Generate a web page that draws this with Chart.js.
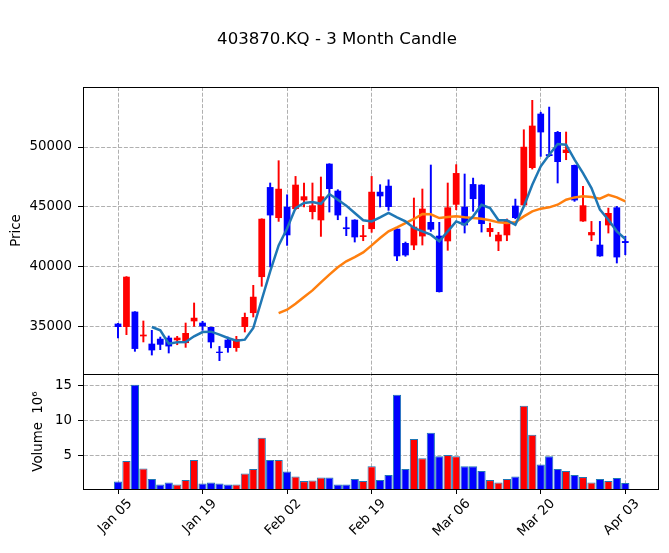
<!DOCTYPE html>
<html><head><meta charset="utf-8">
<script src="https://cdn.jsdelivr.net/npm/chart.js@4/dist/chart.umd.min.js"></script>
<style>html,body{margin:0;padding:0;background:#fff}canvas{display:block}</style>
</head><body>
<canvas id="c" width="669" height="553"></canvas>
<script>
// ---- data ----
const openP  = [35280,35000,36280,34220,33610,34020,34110,33890,33660,35470,
                35360,35000,32940,33940,33250,35000,36160,39160,46660,44080,
                45020,44830,45550,44580,43890,48610,46360,43300,43940,42500,
                43160,46270,46770,43190,42000,41800,42550,43750,42610,42140,
                45190,45020,46910,46860,42910,42140,42640,45110,45140,48250,
                52780,49400,51250,49500,48500,43800,42640,41860,43470,44970,42160];
const highP  = [35300,39200,36280,35500,34720,34160,34250,34220,35330,37000,
                35470,35000,33380,34160,34220,36160,38470,44020,47000,48860,
                46020,47550,47000,47000,47500,48610,46440,44160,43940,43470,
                47550,46860,47270,43190,42080,45750,46500,48500,43720,47000,
                48530,47750,47410,46860,43660,42890,44000,45660,51440,53890,
                52900,53330,51300,51250,48500,46720,43800,43800,44910,45050,42550];
const lowP   = [34080,34360,32970,33750,32660,33110,32830,33520,33300,35050,
                34720,33250,32190,32890,32970,34580,35830,38390,40000,43800,
                41800,44770,45000,44000,42550,44580,43940,42610,42080,42190,
                42890,45000,44720,40520,40890,41440,41830,42970,37910,41390,
                44770,42830,44640,42910,42550,41360,42190,44020,45140,48160,
                49220,49200,47000,48940,45470,43800,42190,40890,42830,40330,41020];
const closeP = [35000,39190,33170,34360,33050,33520,33380,34110,34500,35770,
                35050,33720,32830,33250,34000,35830,37520,44020,44300,46520,
                42640,46860,45890,45140,45890,46500,44300,43160,42470,42640,
                46270,45890,45000,40890,40970,43360,44860,43110,37910,44970,
                47830,43470,45660,43580,43250,42690,43860,44080,50020,51780,
                51220,49250,48750,49780,45550,45140,42910,40890,44500,40800,42000];
// volume in millions
const volume = [1.38,4.28,15.14,3.23,1.71,0.95,1.23,0.95,1.57,4.42,
                1.09,1.23,1.09,0.95,0.95,2.52,3.14,7.57,4.42,4.42,
                2.80,2.09,1.42,1.52,1.95,1.95,0.95,0.95,1.71,1.42,
                3.52,1.57,2.28,13.71,3.14,7.42,4.66,8.28,4.95,5.14,
                4.95,3.52,3.52,2.85,1.57,1.23,1.71,2.09,12.14,8.00,
                3.80,4.95,3.14,2.85,2.28,2.00,1.23,1.71,1.42,1.85,1.14];
// moving averages as drawn (null = not drawn)
const ma5  = [null,null,null,null,35000,34720,33610,33720,33750,34220,
              34580,34610,34360,34080,33860,33940,34910,37270,39640,41800,
              43200,44910,45330,45410,45270,46080,45610,45110,44500,43890,
              43800,44140,44500,44140,43800,43250,42970,42690,42140,42970,
              43800,43520,44220,45190,44910,43890,43890,43520,45050,46860,
              48390,49360,50250,50190,48940,47830,46580,44780,43940,42970,42330];
const ma20 = [null,null,null,null,null,null,null,null,null,null,
              null,null,null,null,null,null,null,null,null,36160,
              36440,36940,37500,38050,38720,39360,39970,40470,40830,41220,
              41800,42410,42970,43300,43660,44000,44410,44390,44080,44160,
              44220,44140,44080,44020,43890,43720,43660,43720,44220,44640,
              44860,44970,45190,45610,45800,45890,45830,45690,46020,45800,45470];
const tickPos    = [0,10,20,30,40,50,60];
const tickLabels = ['Jan 05','Jan 19','Feb 02','Feb 19','Mar 06','Mar 20','Apr 03'];
const priceTicks  = [35000,40000,45000,50000];
const volumeTicks = [5,10,15];

// ---- chart ----
Chart.defaults.font.family = "'DejaVu Sans', sans-serif";
Chart.defaults.font.size = 13.33;
Chart.defaults.color = '#000';

const UP = '#ff0000', DOWN = '#0000ff';
const idx = closeP.map((_, i) => i);
const colors = idx.map(i => closeP[i] >= openP[i] ? UP : DOWN);
const lineData = arr => arr.map((v, i) => ({x: i, y: v})).filter(p => p.y !== null);

const GRID = '#b0b0b0';
const DASH = [4, 1.7];

const framePlugin = {
  id: 'frame',
  afterDraw(chart) {
    const {ctx, chartArea: a, scales} = chart;
    const al = v => Math.round(v) + 0.5;
    ctx.save();
    ctx.strokeStyle = '#000';
    ctx.lineWidth = 1;
    ctx.beginPath();
    ctx.moveTo(a.left, al(a.top)); ctx.lineTo(a.right, al(a.top));
    ctx.moveTo(al(a.right), a.top); ctx.lineTo(al(a.right), a.bottom);
    ctx.moveTo(a.left, al(scales.y.bottom)); ctx.lineTo(a.right, al(scales.y.bottom));
    ctx.stroke();
    ctx.restore();
  }
};

new Chart(document.getElementById('c'), {
  type: 'bar',
  data: {
    datasets: [
      { type: 'line', label: 'MA5', data: lineData(ma5), borderColor: '#1f77b4',
        borderWidth: 2.5, pointRadius: 0, tension: 0, yAxisID: 'y', order: 0, clip: 0 },
      { type: 'line', label: 'MA20', data: lineData(ma20), borderColor: '#ff7f0e',
        borderWidth: 2.5, pointRadius: 0, tension: 0, yAxisID: 'y', order: 0, clip: 0 },
      { label: 'wick', data: idx.map(i => ({x: i, y: [lowP[i], highP[i]]})),
        backgroundColor: colors, barThickness: 1.3, grouped: false, yAxisID: 'y', order: 2, clip: 0 },
      { label: 'body', data: idx.map(i => ({x: i, y: [openP[i], closeP[i]]})),
        backgroundColor: colors, barPercentage: 0.8, categoryPercentage: 1, grouped: false,
        yAxisID: 'y', order: 1, clip: 0 },
      { label: 'volume', data: idx.map(i => ({x: i, y: volume[i]})),
        backgroundColor: colors, borderColor: '#1f77b4', borderWidth: 1, borderSkipped: false,
        barPercentage: 0.97, categoryPercentage: 1, grouped: false, yAxisID: 'yv', order: 1, clip: 0 }
    ]
  },
  options: {
    responsive: false,
    animation: false,
    devicePixelRatio: 1,
    layout: { padding: { left: 8, right: 3, top: 0, bottom: 0 } },
    plugins: {
      legend: { display: false },
      tooltip: { enabled: false },
      title: { display: true, text: '403870.KQ - 3 Month Candle', color: '#000',
               font: { size: 16.6, weight: 'normal' }, padding: { top: 29.5, bottom: 37.6 } }
    },
    scales: {
      x: {
        type: 'linear', min: -4.14, max: 63.87, offset: false,
        grid: { color: GRID, lineWidth: 1, offset: false, tickColor: '#000', tickLength: 5, tickWidth: 1 },
        border: { display: true, color: '#000', width: 1, dash: DASH },
        ticks: { autoSkip: false, minRotation: 45, maxRotation: 45, padding: 2, labelOffset: 12,
                 callback: v => { const k = tickPos.indexOf(v); return k >= 0 ? tickLabels[k] : ''; } },
        afterBuildTicks: s => { s.ticks = tickPos.map(v => ({value: v})); },
        afterFit: s => { s.height = 64; s.paddingRight = 11; }
      },
      y: {
        type: 'linear', position: 'left', stack: 'panels', stackWeight: 287, weight: 2,
        min: 31080, max: 55000,
        grid: { color: GRID, lineWidth: 1, tickColor: '#000', tickLength: 5, tickWidth: 1 },
        border: { display: true, color: '#000', width: 1, dash: DASH },
        ticks: { padding: 6, callback: v => String(v) },
        afterBuildTicks: s => { s.ticks = priceTicks.map(v => ({value: v})); },
        afterFit: s => { s.width = 75; },
        title: { display: true, text: 'Price', color: '#000', font: { size: 13.33 }, padding: { top: 0.7, bottom: 0 } }
      },
      yv: {
        type: 'linear', position: 'left', stack: 'panels', stackWeight: 115, weight: 1,
        min: 0.3, max: 16.65,
        grid: { color: GRID, lineWidth: 1, tickColor: '#000', tickLength: 5, tickWidth: 1 },
        border: { display: true, color: '#000', width: 1, dash: DASH },
        ticks: { padding: 6, callback: v => String(v) },
        afterBuildTicks: s => { s.ticks = volumeTicks.map(v => ({value: v})); },
        afterFit: s => { s.width = 75; },
        title: { display: true, text: 'Volume  10\u2076', color: '#000', font: { size: 13.33 }, padding: { top: 23, bottom: 0 } }
      }
    }
  },
  plugins: [framePlugin]
});
</script>
</body></html>
